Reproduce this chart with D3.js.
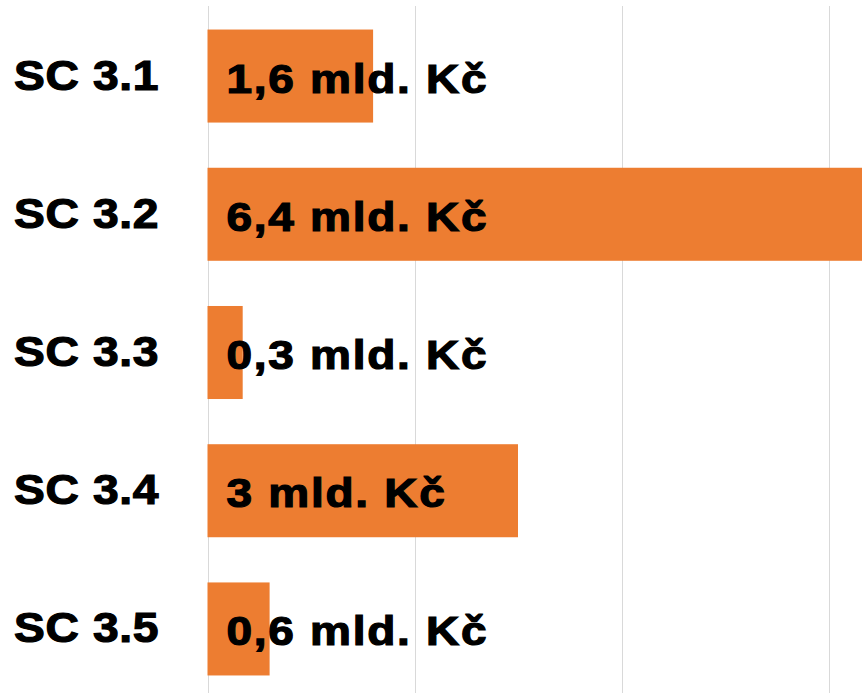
<!DOCTYPE html>
<html>
<head>
<meta charset="UTF-8">
<title>SC 3.x</title>
<script src="https://cdn.jsdelivr.net/npm/d3@7"></script>
<style>
  html, body { margin: 0; padding: 0; background: #fff; }
  svg { display: block; }
</style>
</head>
<body>
<script>
// data
var categories = ["SC 3.1", "SC 3.2", "SC 3.3", "SC 3.4", "SC 3.5"];
var values = [1.6, 6.4, 0.34, 3.0, 0.6];   // mld. Kč
var gridTicks = [0, 2, 4, 6];

var width = 862, height = 693;

var svg = d3.select("body").append("svg")
  .attr("width", width)
  .attr("height", height);

var x = d3.scaleLinear().domain([0, 8]).range([207.5, 1035.5]);
var y = d3.scaleBand().domain(categories).range([7, 698])
  .paddingInner(0.327).paddingOuter(0.163);

// gridlines
svg.append("g").selectAll("line")
  .data(gridTicks)
  .enter().append("line")
  .attr("x1", function(d){ return Math.round(x(d)) + 0.5; })
  .attr("x2", function(d){ return Math.round(x(d)) + 0.5; })
  .attr("y1", 6)
  .attr("y2", height)
  .attr("stroke", "#d9d9d9")
  .attr("stroke-width", 1);

var rows = categories.map(function(c, i){ return {cat: c, v: values[i]}; });

// bars
svg.append("g").selectAll("rect")
  .data(rows)
  .enter().append("rect")
  .attr("x", x(0))
  .attr("y", function(d){ return y(d.cat); })
  .attr("width", function(d){ return x(d.v) - x(0); })
  .attr("height", y.bandwidth())
  .attr("fill", "#ED7D31");

// category labels (text in the original is wide and heavy)
svg.append("g").selectAll("text")
  .data(rows)
  .enter().append("text")
  .attr("transform", function(d){
    return "translate(14," + (y(d.cat) + y.bandwidth() / 2 + 13.5) + ") scale(1.1,1)";
  })
  .attr("font-family", "Liberation Sans, Arial, sans-serif")
  .attr("font-weight", "bold")
  .attr("font-size", 42)
  .attr("letter-spacing", 0.6)
  .attr("fill", "#000")
  .attr("stroke", "#000")
  .attr("stroke-width", 1.2)
  .text(function(d){ return d.cat; });

// value labels
function fmt(v) {
  var r = Math.round(v * 10) / 10;
  return String(r).replace(".", ",") + " mld. Kč";
}

svg.append("g").selectAll("text")
  .data(rows)
  .enter().append("text")
  .attr("transform", function(d){
    return "translate(" + (x(0) + 19) + "," + (y(d.cat) + y.bandwidth() / 2 + 16.5) + ") scale(1.15,1)";
  })
  .attr("font-family", "Liberation Sans, Arial, sans-serif")
  .attr("font-weight", "bold")
  .attr("font-size", 40)
  .attr("letter-spacing", 1.5)
  .attr("fill", "#000")
  .attr("stroke", "#000")
  .attr("stroke-width", 1.2)
  .text(function(d){ return fmt(d.v); });
</script>
</body>
</html>
